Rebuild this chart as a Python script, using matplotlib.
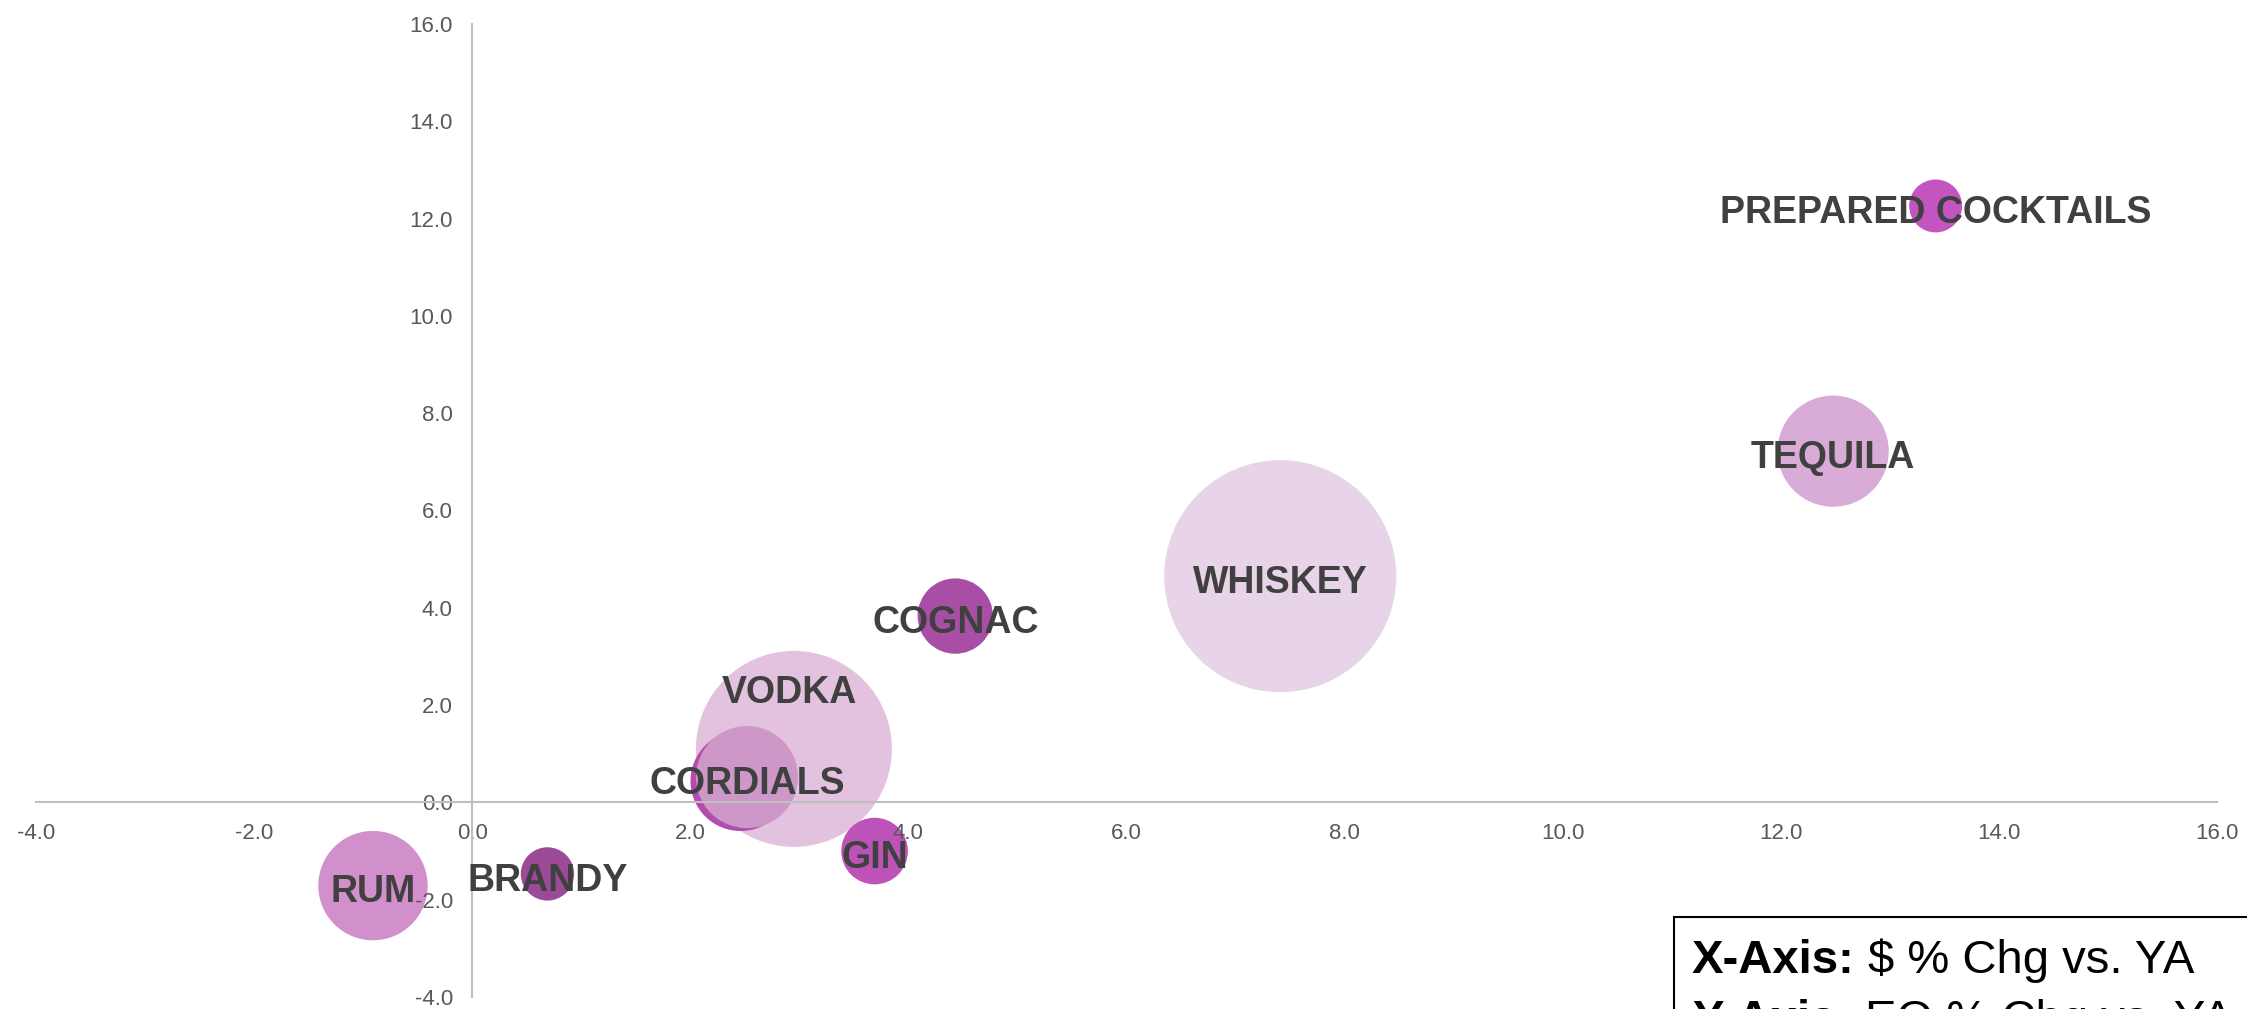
import matplotlib
matplotlib.use("Agg")
import matplotlib.pyplot as plt
from matplotlib.patches import Rectangle
from matplotlib.ticker import FormatStrFormatter, MultipleLocator

plt.rcParams['font.family'] = ['Liberation Sans', 'DejaVu Sans']

# spirits categories: $ % chg vs YA (x), EQ % chg vs YA (y), bubble = $ sales weight
categories = ["WHISKEY", "VODKA", "", "CORDIALS", "TEQUILA", "RUM",
              "COGNAC", "GIN", "BRANDY", "PREPARED COCKTAILS"]
dollar_chg = [7.41, 2.95, 2.46, 2.52, 12.48, -0.91, 4.43, 3.69, 0.69, 13.42]
eq_chg = [4.65, 1.10, 0.44, 0.52, 7.22, -1.71, 3.83, -1.00, -1.47, 12.26]
bubble_size = [134.6, 96.0, 25.0, 26.0, 30.9, 29.9, 14.2, 11.1, 7.1, 7.0]
colors = ["#E7D4E8", "#E2C2DE", "#B24DAF", "#CD97C8", "#D8ACD6", "#D190CB",
          "#A84FA5", "#BD52B8", "#9A4A96", "#C455C0"]

# label nudges in points (vodka label sits above its bubble)
label_nudge = {"VODKA": (-3, 45)}

W, H = 2247, 1009
fig = plt.figure(figsize=(W / 100, H / 100), dpi=100)
ax = fig.add_axes([36 / W, 12 / H, 2181 / W, 973 / H])
ax.set_xlim(-4, 16)
ax.set_ylim(-4, 16)

ax.scatter(dollar_chg, eq_chg, s=[v * 207.4 for v in bubble_size],
           c=colors, linewidths=0, zorder=1)

for name, x, y in zip(categories, dollar_chg, eq_chg):
    if not name:
        continue
    dx, dy = label_nudge.get(name, (0, 0))
    ax.annotate(name, (x, y), xytext=(dx, dy - 2), textcoords='offset points',
                ha='center', va='center_baseline', fontsize=27,
                fontweight='bold', color='#404040', zorder=3)

for side in ['top', 'right']:
    ax.spines[side].set_visible(False)
for side in ['left', 'bottom']:
    ax.spines[side].set_position(('data', 0))
    ax.spines[side].set_color('#BFBFBF')
    ax.spines[side].set_linewidth(1.5)

ax.xaxis.set_major_locator(MultipleLocator(2))
ax.yaxis.set_major_locator(MultipleLocator(2))
ax.xaxis.set_major_formatter(FormatStrFormatter('%.1f'))
ax.yaxis.set_major_formatter(FormatStrFormatter('%.1f'))
ax.tick_params(axis='x', length=0, pad=15, labelsize=16, labelcolor='#595959')
ax.tick_params(axis='y', length=0, pad=14, labelsize=16, labelcolor='#595959')
ax.patch.set_visible(False)

# axis key box in the lower right corner
fig.add_artist(Rectangle((1674 / W, -0.1), 0.3, 0.1 + (H - 917) / H,
                         transform=fig.transFigure, fill=False,
                         edgecolor='black', linewidth=1.5))
key_lines = [("X-Axis:", "$ % Chg vs. YA", 973), ("Y-Axis:", "EQ % Chg vs. YA", 1033)]
for bold, rest, base in key_lines:
    t = fig.text(1692 / W, (H - base) / H, bold, fontsize=34,
                 fontweight='bold', color='black', va='baseline', ha='left')
    ax.annotate(rest, xy=(1, 0), xycoords=t, xytext=(9.5, 0),
                textcoords='offset points', fontsize=34, color='black',
                va='bottom', ha='left', annotation_clip=False)

fig.savefig("out.png", dpi=100)
